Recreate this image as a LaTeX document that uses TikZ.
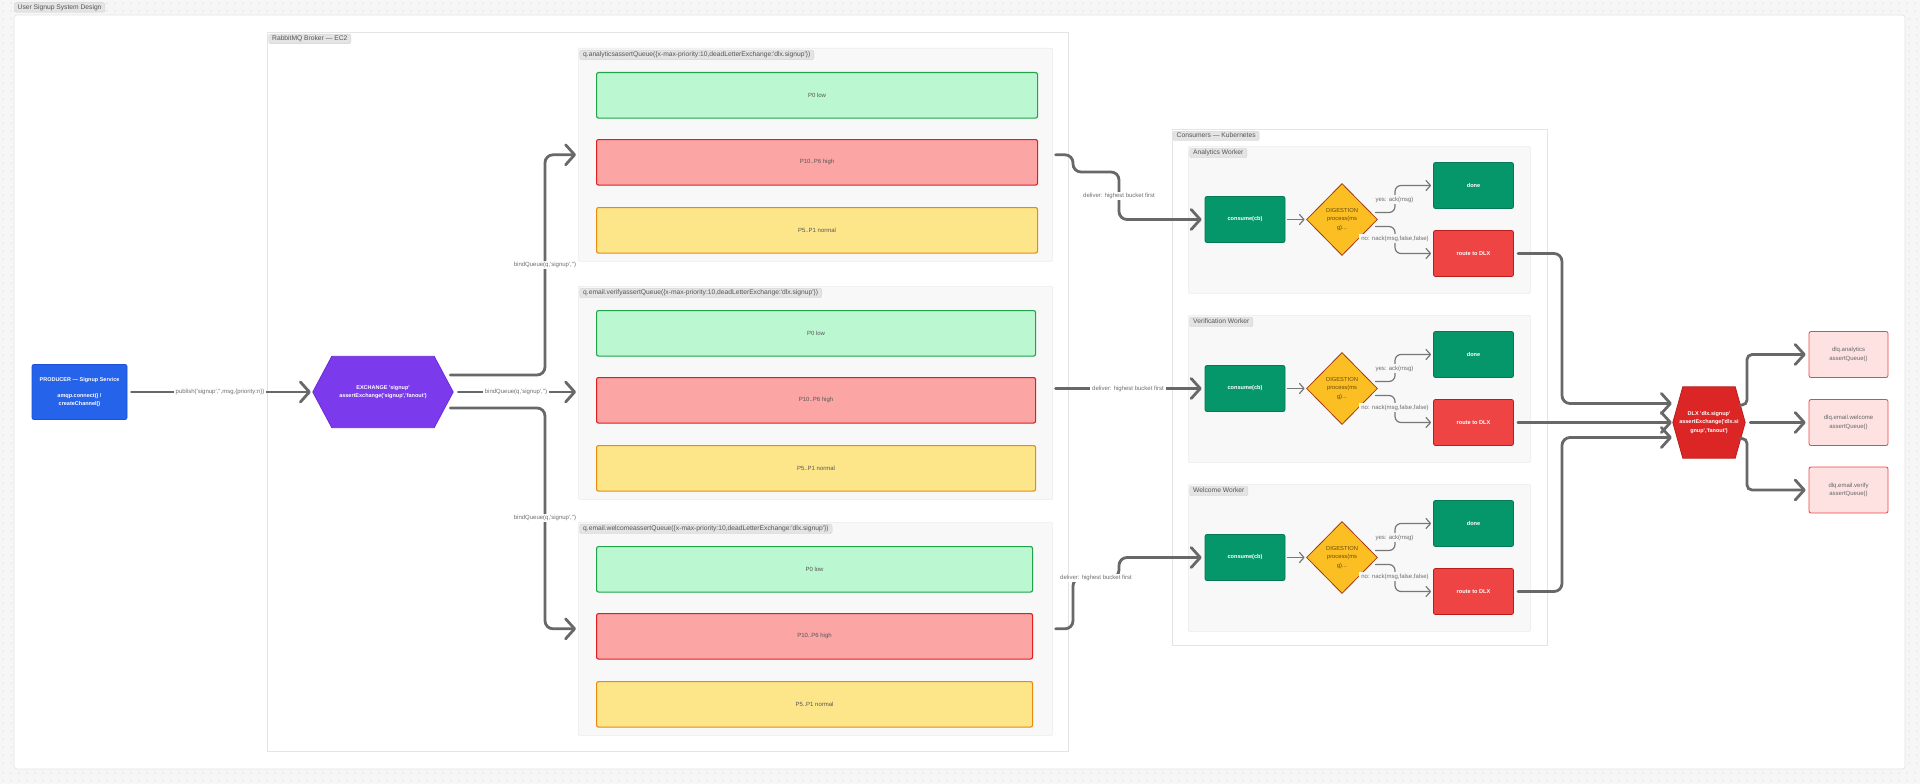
\documentclass[tikz,border=0pt]{standalone}
\usepackage{fontspec}
\setmainfont{Liberation Sans}[Ligatures=TeXOff]
\usetikzlibrary{arrows.meta,shapes.geometric,calc}
\definecolor{bgcanvas}{HTML}{F6F6F6}
\definecolor{dotc}{HTML}{D2D2D2}
\definecolor{frameline}{HTML}{E4E4E4}
\definecolor{panelbg}{HTML}{F8F8F8}
\definecolor{panelline}{HTML}{EBEBEB}
\definecolor{tagfill}{HTML}{E4E4E4}
\definecolor{tagline}{HTML}{D4D4D4}
\definecolor{tagtext}{HTML}{555555}
\definecolor{edgec}{HTML}{686868}
\definecolor{thinc}{HTML}{777777}
\definecolor{lbltext}{HTML}{6E6E6E}
\definecolor{prodfill}{HTML}{2563EB}
\definecolor{prodline}{HTML}{1D4ED8}
\definecolor{exfill}{HTML}{7C3AED}
\definecolor{exline}{HTML}{6D28D9}
\definecolor{gfill}{HTML}{BBF7D0}
\definecolor{gline}{HTML}{22A34A}
\definecolor{rfill}{HTML}{FCA5A5}
\definecolor{rline}{HTML}{E11D1D}
\definecolor{yfill}{HTML}{FDE68A}
\definecolor{yline}{HTML}{EA8A0C}
\definecolor{bartext}{HTML}{555555}
\definecolor{wgreen}{HTML}{059669}
\definecolor{wgreenline}{HTML}{047857}
\definecolor{wred}{HTML}{EF4444}
\definecolor{wredline}{HTML}{B91C1C}
\definecolor{dfill}{HTML}{FBBF24}
\definecolor{dline}{HTML}{A33A16}
\definecolor{dtext}{HTML}{6B4A0B}
\definecolor{dlxfill}{HTML}{DC2626}
\definecolor{dlxline}{HTML}{B91C1C}
\definecolor{dlqfill}{HTML}{FEE2E2}
\definecolor{dlqline}{HTML}{EF4444}
\definecolor{dlqtext}{HTML}{666666}
\tikzset{
  bigframe/.style={fill=white, draw=frameline, line width=0.6pt},
  panel/.style={fill=panelbg, draw=panelline, line width=0.6pt, inner sep=0pt, rounded corners=1pt},
  tagbox/.style={anchor=north west, fill=tagfill, draw=tagline, line width=0.4pt, rounded corners=2pt,
    text=tagtext, font=\fontsize{6.7}{8}\selectfont, inner xsep=3.5pt, inner ysep=1.6pt,
    text height=4.9pt, text depth=1.4pt},
  bar/.style={anchor=north west, rounded corners=2pt, line width=1.1pt, text=bartext,
    font=\fontsize{6}{7}\selectfont, minimum height=45.5pt, inner sep=0pt},
  prod/.style={fill=prodfill, draw=prodline, line width=0.8pt, rounded corners=2pt,
    minimum width=95pt, minimum height=55pt, text=white, font=\bfseries\fontsize{5.5}{8}\selectfont,
    align=center, inner sep=0pt},
  wbox/.style={line width=0.8pt, rounded corners=2pt, minimum width=80pt, minimum height=46pt,
    text=white, font=\bfseries\fontsize{5.6}{7}\selectfont, inner sep=0pt},
  dia/.style={diamond, aspect=1, fill=dfill, draw=dline, line width=0.8pt, minimum width=71pt,
    minimum height=72pt, inner sep=0pt, text=dtext, font=\fontsize{5.8}{8.3}\selectfont, align=center},
  dlq/.style={fill=dlqfill, draw=dlqline, line width=0.8pt, rounded corners=2pt, minimum width=79pt,
    minimum height=46pt, text=dlqtext, font=\fontsize{6}{8.3}\selectfont, align=center, inner sep=0pt},
  hexbase/.style={minimum width=#1, minimum height=71pt, inner sep=0pt},
  hextext/.style={text=white, font=\bfseries\fontsize{5.5}{8.7}\selectfont, align=center, inner sep=0pt},
  conn/.style={draw=edgec, line width=2.8pt, rounded corners=8pt, line cap=round,
    -{Straight Barb[length=9pt,width=20pt,round]}},
  thinconn/.style={draw=thinc, line width=1.2pt, rounded corners=6pt, line cap=round,
    -{Straight Barb[length=4.5pt,width=10pt,round]}},
  elabel/.style={fill=white, text=lbltext, font=\fontsize{6}{7}\selectfont, inner xsep=2pt, inner ysep=1.5pt},
  wlabel/.style={elabel, fill=panelbg},
}
\newcommand\qgroup[4]{%
  \node[panel, anchor=north west, minimum width=474pt, minimum height=213pt] (#1) at (578,#2) {};
  \node[tagbox] (#1-tag) at ([shift={(1.5pt,-2pt)}]#1.north west) {#3};
  \node[bar, fill=gfill, draw=gline, minimum width=#4pt] (#1-g) at ([shift={(18pt,-24pt)}]#1.north west) {P0 low};
  \node[bar, fill=rfill, draw=rline, minimum width=#4pt] (#1-r) at ([shift={(18pt,-91pt)}]#1.north west) {P10..P6 high};
  \node[bar, fill=yfill, draw=yline, minimum width=#4pt] (#1-y) at ([shift={(18pt,-159pt)}]#1.north west) {P5..P1 normal};
}
\newcommand\wgroup[3]{%
  \pgfmathsetmacro\wcy{#2+73.5}
  \node[panel, anchor=north west, minimum width=342pt, minimum height=147pt] (#1) at (1188,#2) {};
  \node[tagbox] (#1-tag) at ([shift={(1.5pt,-2pt)}]#1.north west) {#3};
  \node[wbox, fill=wgreen, draw=wgreenline] (#1-c) at (1245,\wcy) {consume(cb)};
  \node[dia] (#1-d) at (1342,\wcy) {DIGESTION\\process(ms\\g)...};
  \node[wbox, fill=wgreen, draw=wgreenline] (#1-ok) at (1473.5,\wcy-34) {done};
  \node[wbox, fill=wred, draw=wredline] (#1-x) at (1473.5,\wcy+34) {route to DLX};
  \coordinate (#1-j) at (1395,\wcy);
  \coordinate (#1-ys) at ([shift={(-2.5pt,7pt)}]#1-d.east);
  \coordinate (#1-ns) at ([shift={(-2.5pt,-7pt)}]#1-d.east);
  \draw[thinconn] ([xshift=2pt]#1-c.east) -- ([xshift=-1.5pt]#1-d.west);
  \draw[thinconn] (#1-ys) -- (#1-ys -| #1-j) -- (#1-j |- #1-ok.west) -- ([xshift=-2pt]#1-ok.west);
  \draw[thinconn] (#1-ns) -- (#1-ns -| #1-j) -- (#1-j |- #1-x.west) -- ([xshift=-2pt]#1-x.west);
  \node[wlabel] (#1-yl) at (1394.5,\wcy-20) {yes: ack(msg)};
  \node[wlabel] (#1-nl) at (1395,\wcy+19) {no: nack(msg,false,false)};
}
\begin{document}
\begin{tikzpicture}[x=1pt,y=-1pt]
\useasboundingbox (0,0) rectangle (1920,784);
\fill[bgcanvas] (0,0) rectangle (1920,784);
\foreach \x in {3,11,...,1919} {
  \fill[dotc] (\x,3) circle (0.6pt); \fill[dotc] (\x,11) circle (0.6pt);
  \fill[dotc] (\x,773) circle (0.6pt); \fill[dotc] (\x,781) circle (0.6pt);
}
\foreach \y in {19,27,...,767} {
  \fill[dotc] (3,\y) circle (0.6pt); \fill[dotc] (11,\y) circle (0.6pt);
  \fill[dotc] (1909,\y) circle (0.6pt); \fill[dotc] (1917,\y) circle (0.6pt);
}
% outer frame
\draw[bigframe, rounded corners=3pt] (14,15) rectangle (1905,769);
\node[tagbox] (ttl) at (14,2.5) {User Signup System Design};
% broker frame
\draw[bigframe] (267,32) rectangle (1068,751);
\node[tagbox] (brokertag) at (268.5,34) {RabbitMQ Broker — EC2};
% queues
\qgroup{qa}{48}{q.analyticsassertQueue(\{x-max-priority:10,deadLetterExchange:'dlx.signup'\})}{441}
\qgroup{qv}{286}{q.email.verifyassertQueue(\{x-max-priority:10,deadLetterExchange:'dlx.signup'\})}{439}
\qgroup{qw}{522}{q.email.welcomeassertQueue(\{x-max-priority:10,deadLetterExchange:'dlx.signup'\})}{436}
% consumers frame
\draw[bigframe] (1172,129) rectangle (1547,645);
\node[tagbox] (constag) at (1173,131) {Consumers — Kubernetes};
\wgroup{wa}{146}{Analytics Worker}
\wgroup{wv}{315}{Verification Worker}
\wgroup{ww}{484}{Welcome Worker}
% producer
\node[prod] (prod) at (79.5,392) {PRODUCER — Signup Service\\[8pt]amqp.connect() /\\createChannel()};
% exchange hexagon
\node[hexbase=140pt] (ex) at (383,392) {};
\draw[fill=exfill, draw=exline, line width=0.8pt] (ex.west) -- ([xshift=19pt]ex.north west) -- ([xshift=-19pt]ex.north east)
  -- (ex.east) -- ([xshift=-19pt]ex.south east) -- ([xshift=19pt]ex.south west) -- cycle;
\node[hextext] (ext) at (ex.center) {EXCHANGE 'signup'\\assertExchange('signup','fanout')};
% DLX hexagon
\node[hexbase=72pt] (dlx) at (1709,422.5) {};
\draw[fill=dlxfill, draw=dlxline, line width=0.8pt] (dlx.west) -- ([xshift=10pt]dlx.north west) -- ([xshift=-10pt]dlx.north east)
  -- (dlx.east) -- ([xshift=-10pt]dlx.south east) -- ([xshift=10pt]dlx.south west) -- cycle;
\node[hextext] (dlxt) at (dlx.center) {DLX 'dlx.signup'\\assertExchange('dlx.si\\gnup','fanout')};
% dead letter queues
\node[dlq] (dlqa) at (1848.5,354.5) {dlq.analytics\\assertQueue()};
\node[dlq] (dlqw) at (1848.5,422.5) {dlq.email.welcome\\assertQueue()};
\node[dlq] (dlqv) at (1848.5,490) {dlq.email.verify\\assertQueue()};
% producer -> exchange
\draw[conn] ([xshift=4pt]prod.east) -- ([xshift=-2pt]ex.west);
\node[elabel] (lpub) at (220,392) {publish('signup','',msg,\{priority:n\})};
% exchange -> queues
\coordinate (bus) at (545,0);
\coordinate (exa) at ([shift={(-3pt,17pt)}]ex.east);
\coordinate (exw) at ([shift={(-3pt,-16pt)}]ex.east);
\draw[conn] (exa) -- (exa -| bus) -- (bus |- qa.west) -- ([xshift=-2pt]qa.west);
\draw[conn] ([xshift=5pt]ex.east) -- ([xshift=-2pt]ex.east -| qv.west);
\draw[conn] (exw) -- (exw -| bus) -- (bus |- qw.west) -- ([xshift=-2pt]qw.west);
\node[elabel] (lb1) at (545,265) {bindQueue(q,'signup','')};
\node[elabel] (lb2) at (516,392) {bindQueue(q,'signup','')};
\node[elabel] (lb3) at (545,518) {bindQueue(q,'signup','')};
% queues -> workers
\coordinate (jA) at (1073,0);
\coordinate (jB) at (1119,0);
\coordinate (da1) at (1073,172);
\coordinate (dw1) at (1073,578);
\coordinate (vs) at (qv.east |- wv-c.west);
\draw[conn] ([xshift=3pt]qa.east) -- (qa.east -| jA) -- (jA |- da1) -- (jB |- da1) -- (jB |- wa-c.west) -- ([xshift=-3pt]wa-c.west);
\draw[conn] ([xshift=3pt]vs) -- ([xshift=-3pt]wv-c.west);
\draw[conn] ([xshift=3pt]qw.east) -- (qw.east -| jA) -- (jA |- dw1) -- (jB |- dw1) -- (jB |- ww-c.west) -- ([xshift=-3pt]ww-c.west);
\node[elabel] (ld1) at (1119,196) {deliver: highest bucket first};
\node[elabel] (ld2) at (1128,388.5) {deliver: highest bucket first};
\node[elabel] (ld3) at (1096,578) {deliver: highest bucket first};
% workers -> DLX
\coordinate (jR) at (1562,0);
\coordinate (dlxA) at ([shift={(-1pt,19pt)}]dlx.west);
\coordinate (dlxC) at ([shift={(-1pt,-15pt)}]dlx.west);
\draw[conn] ([xshift=4pt]wa-x.east) -- (wa-x.east -| jR) -- (jR |- dlxA) -- (dlxA);
\draw[conn] ([xshift=4pt]wv-x.east) -- ([xshift=-1pt]wv-x.east -| dlx.west);
\draw[conn] ([xshift=4pt]ww-x.east) -- (ww-x.east -| jR) -- (jR |- dlxC) -- (dlxC);
% DLX -> dlq
\coordinate (jD) at (1747,0);
\coordinate (o1) at ([shift={(-5pt,17.5pt)}]dlx.east);
\coordinate (o3) at ([shift={(-5pt,-16pt)}]dlx.east);
\draw[conn, rounded corners=5pt] (o1) -- (o1 -| jD) -- (jD |- dlqa.west) -- ([xshift=-3pt]dlqa.west);
\draw[conn] ([xshift=5pt]dlx.east) -- ([xshift=-3pt]dlqw.west);
\draw[conn, rounded corners=5pt] (o3) -- (o3 -| jD) -- (jD |- dlqv.west) -- ([xshift=-3pt]dlqv.west);
\end{tikzpicture}
\end{document}
